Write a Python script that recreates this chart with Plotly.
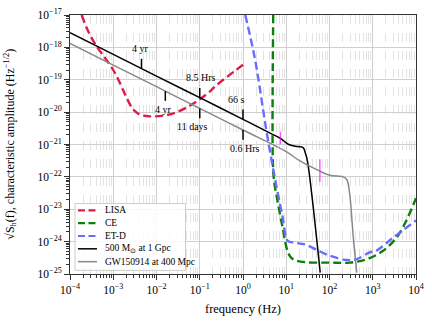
import numpy as np
import plotly.graph_objects as go

# sensitivity curves (frequency in Hz, amplitude in Hz^-1/2)
lisa_f = [1.86e-4, 2.65e-4, 4.14e-4, 6.46e-4, 1.0e-3, 1.43e-3, 2.04e-3, 2.91e-3, 4.17e-3,
          7.1e-3, 1.45e-2, 2.95e-2, 5.96e-2, 0.1, 0.173, 0.238, 1.0]
lisa_h = [1e-17, 3.1e-18, 1.07e-18, 4.7e-19, 2.0e-19, 7.9e-20, 2.75e-20, 1.2e-20, 8.3e-21,
          7.4e-21, 7.8e-21, 1.0e-20, 1.6e-20, 2.5e-20, 4.4e-20, 6.6e-20, 2.9e-19]

ce_f = [5.0, 4.9, 5.25, 6.3, 8.3, 10.7, 12.9, 16.8, 30, 100, 290, 690, 1700, 3500, 5900, 1e4]
ce_h = [1e-17, 3.0e-22, 7.2e-23, 1.8e-23, 2.6e-24, 5.1e-25, 3.2e-25, 2.6e-25, 2.3e-25,
        2.25e-25, 2.25e-25, 2.8e-25, 5.1e-25, 1.3e-24, 4.3e-24, 2.2e-23]

etd_f = [1.13, 1.9, 3.4, 4.4, 5.8, 8.0, 10.8, 14, 21, 29, 50, 100, 250, 430, 870, 1200, 2900, 1e4]
etd_h = [1e-17, 4.2e-19, 3.2e-21, 4.4e-22, 5.9e-23, 7.1e-24, 1.05e-24, 9.5e-25, 8.7e-25,
         8.0e-25, 5.6e-25, 3.7e-25, 2.7e-25, 2.9e-25, 4.7e-25, 5.2e-25, 1.3e-24, 4.5e-24]

# sources
bh500_f = [1e-4, 1e-3, 1e-2, 0.1, 1, 4.7, 7.3, 11.4, 16.2, 22, 25, 28, 31, 61]
bh500_h = [2.85e-18, 6.1e-19, 1.3e-19, 2.8e-20, 6.0e-21, 2.1e-21, 1.55e-21, 1.0e-21,
           8.9e-22, 8.5e-22, 7.8e-22, 5.2e-22, 3.0e-22, 1.1e-25]

gw_f = [1e-4, 1e-3, 1e-2, 0.1, 1, 10, 20.8, 60, 102, 209, 251, 288, 355, 427]
gw_h = [1.32e-18, 2.83e-19, 6.1e-20, 1.3e-20, 2.8e-21, 6.0e-22, 3.1e-22, 1.5e-22,
        1.12e-22, 1.0e-22, 8.3e-23, 3.6e-23, 1.35e-24, 1.1e-25]

# time-to-merger marks
bh500_mark_f = [4.5e-3, 0.1, 1.0]
bh500_mark_txt = ["4 yr", "8.5 Hrs", "66 s"]
gw_mark_f = [1.6e-2, 0.1, 1.0]
gw_mark_txt = ["4 yr", "11 days", "0.6 Hrs"]

# magenta marks (ISCO)
isco_f = [7.3, 60]
isco_h = [1.58e-21, 1.58e-22]

series_names = ["LISA", "CE", "ET-D", "500 M<sub>⊙</sub> at 1 Gpc", "GW150914 at 400 Mpc"]

xtick_vals = [10.0**k for k in range(-4, 5)]
xtick_txt = ["10<sup>−%d</sup>" % -k if k < 0 else "10<sup>%d</sup>" % k for k in range(-4, 5)]
ytick_vals = [10.0**k for k in range(-25, -16)]
ytick_txt = ["10<sup>−%d</sup>" % -k for k in range(-25, -16)]


def on_curve(f, cf, ch):
    return 10**np.interp(np.log10(f), np.log10(cf), np.log10(ch))


FONT = "Liberation Serif"
DASH = "8px,4px"
colors = ["#e0194a", "#0a800a", "#6b6bff", "black", "#888888"]
widths = [2.4, 2.4, 2.4, 1.5, 1.5]
dashes = [DASH, DASH, DASH, "solid", "solid"]

fig = go.Figure()
curves = [(lisa_f, lisa_h), (ce_f, ce_h), (etd_f, etd_h), (bh500_f, bh500_h), (gw_f, gw_h)]
for (cf, ch), name, c, w, d in zip(curves, series_names, colors, widths, dashes):
    fig.add_trace(go.Scatter(x=cf, y=ch, mode="lines", name=name, line_shape="spline",
                             showlegend=False, line=dict(color=c, width=w, dash=d)))

# short vertical marks: above the black line, below the grey one
tick_up = 10**0.3
sx, sy = [], []
for f in bh500_mark_f:
    h = on_curve(f, bh500_f, bh500_h)
    sx += [f, f, None]
    sy += [h, h * tick_up, None]
for f in gw_mark_f:
    h = on_curve(f, gw_f, gw_h)
    sx += [f, f, None]
    sy += [h, h / tick_up, None]
fig.add_trace(go.Scatter(x=sx, y=sy, mode="lines", showlegend=False,
                         line=dict(color="black", width=1.5)))

fig.add_trace(go.Scatter(x=isco_f, y=isco_h, mode="markers", showlegend=False,
                         marker=dict(symbol="line-ns", size=[9, 16],
                                     line=dict(color="#ff00ff", width=1.3))))

label_dx_b = [-1, 1, -7]
label_dx_g = [-2, -7, 2]
for f, t, dx in zip(bh500_mark_f, bh500_mark_txt, label_dx_b):
    h = on_curve(f, bh500_f, bh500_h)
    fig.add_annotation(x=np.log10(f), y=np.log10(h), text=t, showarrow=False,
                       xshift=dx, yshift=20, font=dict(family=FONT, size=10, color="black"))
for f, t, dx in zip(gw_mark_f, gw_mark_txt, label_dx_g):
    h = on_curve(f, gw_f, gw_h)
    fig.add_annotation(x=np.log10(f), y=np.log10(h), text=t, showarrow=False,
                       xshift=dx, yshift=-18, font=dict(family=FONT, size=10, color="black"))

# legend drawn by hand (matplotlib-like compact spacing)
fig.add_shape(type="rect", xref="paper", yref="paper", x0=0.0145, x1=0.334, y0=0.014, y1=0.272,
              fillcolor="rgba(255,255,255,0.85)", line=dict(color="#cccccc", width=1), layer="above")
for i, (name, c, w, d) in enumerate(zip(series_names, colors, widths, dashes)):
    yy = 0.246 - i * 0.0496
    fig.add_shape(type="line", xref="paper", yref="paper", x0=0.023, x1=0.078, y0=yy, y1=yy,
                  line=dict(color=c, width=w if w < 2 else 2.2, dash="7px,3.5px" if d != "solid" else "solid"),
                  layer="above")
    fig.add_annotation(xref="paper", yref="paper", x=0.094, y=yy, text=name, showarrow=False,
                       xanchor="left", yanchor="middle", font=dict(family=FONT, size=9.5, color="black"))

# axis titles placed as annotations for exact positioning
fig.add_annotation(xref="paper", yref="paper", x=0.5, y=-0.134, text="frequency (Hz)",
                   showarrow=False, xanchor="center", yanchor="middle",
                   font=dict(family=FONT, size=12.5, color="black"))
fig.add_annotation(xref="paper", yref="paper", x=-0.173, y=0.5, textangle=-90,
                   text="√S<sub>h</sub>(f), characteristic amplitude (Hz<sup>−1/2</sup>)",
                   showarrow=False, xanchor="center", yanchor="middle",
                   font=dict(family=FONT, size=12, color="black"))

minor_x = [k * 10.0**n for n in range(-4, 4) for k in range(2, 10)]
minor_y = [k * 10.0**n for n in range(-25, -17) for k in range(2, 10)]

axis_common = dict(type="log", showline=True, linecolor="#333333", linewidth=1, mirror=True,
                   ticks="outside", ticklen=5, tickcolor="#333333", showgrid=True,
                   gridcolor="#cfcfcf", gridwidth=1, zeroline=False, automargin=False,
                   ticklabeloverflow="allow",
                   tickfont=dict(family=FONT, size=11.5, color="black"))

fig.update_xaxes(range=[-4, 4], tickmode="array", tickvals=xtick_vals, ticktext=xtick_txt,
                 minor=dict(tickmode="array", tickvals=minor_x, ticks="outside", ticklen=3,
                            tickcolor="#333333", showgrid=True, gridcolor="#e3e3e3",
                            griddash="dash", gridwidth=0.8),
                 **axis_common)
fig.update_yaxes(range=[-25, -17], tickmode="array", tickvals=ytick_vals, ticktext=ytick_txt,
                 minor=dict(tickmode="array", tickvals=minor_y, ticks="outside", ticklen=3,
                            tickcolor="#333333", showgrid=False),
                 **axis_common)

fig.update_layout(
    width=432, height=324,
    margin=dict(l=70, r=16, t=15, b=50),
    paper_bgcolor="white", plot_bgcolor="white",
    font=dict(family=FONT, color="black"),
    showlegend=False,
)

# drop the browser's default 8px body margin so the figure fills the window
fig.write_html("out.html", config={"displayModeBar": False},
               post_script="document.body.style.margin='0';")
